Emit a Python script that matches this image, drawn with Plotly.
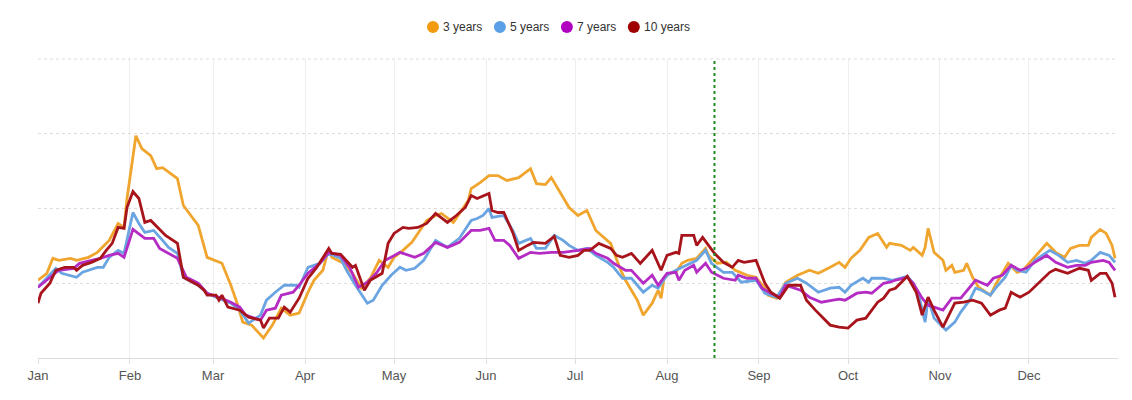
import numpy as np
import plotly.graph_objects as go

# day-of-year readings (0 = Jan 1) and index values for each horizon
days_3 = [0, 3, 5, 7, 11, 13, 17, 20, 24, 27, 29, 30, 33, 35, 38, 40, 42, 47, 49, 54, 57, 62, 65, 67, 69, 72, 76, 79, 82, 85, 88, 91,
          93, 96, 98, 99, 103, 106, 109, 112, 115, 118, 120, 123, 126, 130, 131, 134, 136, 140, 142, 145, 146, 149, 152, 155, 158, 162, 166, 168, 171, 173, 177, 179, 182,
          185, 188, 190, 193, 196, 198, 200, 202, 204, 207, 209, 210, 211, 213, 215, 217, 219, 222, 225, 226, 229, 232, 235, 239, 242, 245, 246, 249, 252, 256, 260, 263, 267, 270,
          272, 274, 277, 280, 283, 286, 287, 291, 294, 295, 298, 299, 300, 302, 305, 306, 308, 309, 312, 313, 315, 317, 321, 323, 327, 330, 332, 335, 340, 343, 346, 348, 351, 354, 355, 358, 360, 362, 363]
vals_3 = [78, 85, 100, 98, 100, 98, 101, 106, 118, 135, 131, 160, 223, 210, 203, 190, 191, 180, 153, 133, 101, 95, 73, 56, 36, 33, 20, 33, 50, 43, 45, 66,
          78, 88, 110, 101, 95, 85, 70, 80, 98, 91, 101, 108, 116, 133, 138, 143, 145, 136, 145, 158, 170, 176, 183, 183, 178, 181, 190, 175, 174, 181, 161, 151, 143,
          148, 128, 123, 115, 91, 78, 68, 58, 43, 55, 68, 60, 80, 85, 86, 95, 98, 100, 110, 103, 95, 96, 88, 83, 81, 70, 63, 60, 76, 83, 88, 85, 91, 96,
          91, 100, 108, 121, 125, 111, 115, 113, 108, 111, 103, 111, 130, 106, 98, 88, 93, 86, 88, 95, 81, 71, 63, 75, 95, 86, 88, 98, 115, 106, 101, 110, 113, 113, 121, 129, 125, 113, 100]

days_5 = [0, 3, 6, 8, 13, 15, 20, 22, 24, 27, 29, 32, 34, 36, 39, 42, 44, 47, 49, 54, 57, 60, 65, 68, 71, 75, 77, 80, 83, 87, 88, 91,
          95, 98, 102, 104, 107, 111, 113, 116, 119, 122, 124, 127, 130, 134, 138, 142, 146, 148, 150, 152, 153, 157, 160, 162, 166, 168, 171, 174, 177, 179, 182,
          185, 188, 192, 194, 197, 200, 204, 207, 209, 212, 215, 217, 220, 222, 225, 227, 231, 234, 237, 242, 245, 249, 252, 256, 259, 263, 267, 270, 272,
          274, 278, 280, 281, 285, 288, 293, 295, 297, 299, 300, 302, 306, 309, 311, 314, 316, 318, 321, 323, 326, 328, 330, 333, 336, 341, 344, 347, 350, 353, 355, 358, 361, 363]
vals_5 = [71, 80, 90, 85, 81, 86, 91, 91, 101, 108, 105, 146, 135, 126, 128, 118, 111, 105, 81, 73, 65, 61, 55, 48, 35, 43, 58, 66, 73, 73, 71, 91,
          95, 105, 100, 88, 73, 55, 58, 73, 83, 91, 88, 90, 98, 118, 111, 120, 138, 140, 143, 150, 141, 143, 128, 115, 120, 110, 110, 123, 118, 113, 108,
          110, 103, 96, 91, 80, 80, 66, 73, 70, 83, 88, 91, 95, 98, 108, 95, 86, 86, 76, 78, 65, 61, 75, 80, 75, 66, 70, 71, 66,
          73, 80, 76, 80, 80, 78, 82, 75, 61, 36, 60, 40, 28, 36, 46, 58, 70, 68, 63, 71, 81, 93, 88, 86, 98, 108, 103, 96, 98, 95, 98, 106, 103, 96]

days_7 = [0, 3, 7, 12, 14, 18, 21, 24, 27, 29, 32, 36, 39, 41, 44, 47, 50, 54, 57, 61, 65, 68, 70, 75, 77, 80, 82, 86, 88, 91,
          95, 98, 102, 105, 108, 111, 114, 117, 119, 122, 127, 130, 134, 138, 142, 146, 149, 152, 154, 157, 159, 162, 166, 169, 173, 177, 182,
          186, 188, 192, 194, 198, 200, 204, 207, 209, 212, 215, 216, 218, 221, 222, 225, 227, 231, 235, 236, 239, 242, 244, 247, 250, 252, 257, 260, 264, 268,
          270, 272, 276, 279, 281, 285, 287, 289, 293, 295, 298, 300, 303, 305, 308, 311, 316, 320, 322, 325, 328, 331, 333, 336, 340, 343, 347, 350, 353, 355, 359, 361, 363]
vals_7 = [71, 78, 88, 90, 95, 98, 100, 103, 105, 101, 129, 120, 120, 110, 105, 100, 81, 75, 65, 61, 56, 51, 43, 38, 48, 50, 63, 66, 73, 85,
          95, 106, 103, 91, 71, 76, 85, 98, 101, 106, 101, 105, 116, 111, 116, 128, 128, 130, 118, 118, 113, 100, 106, 105, 106, 106, 108,
          110, 105, 100, 95, 88, 88, 75, 83, 73, 85, 86, 78, 88, 93, 86, 95, 86, 80, 78, 83, 80, 80, 70, 65, 61, 73, 68, 61, 56, 58,
          59, 58, 65, 66, 65, 75, 76, 78, 81, 75, 60, 53, 50, 48, 60, 60, 78, 73, 80, 83, 93, 88, 90, 96, 103, 96, 91, 93, 93, 96, 98, 96, 88]

days_10 = [0, 1, 4, 6, 9, 12, 13, 15, 18, 21, 23, 25, 27, 29, 30, 32, 34, 36, 38, 43, 47, 49, 54, 56, 57, 60, 61, 62, 64, 68, 71, 75, 76, 78, 81, 83, 85, 88, 91,
           94, 98, 99, 102, 106, 107, 110, 112, 116, 118, 120, 123, 125, 128, 131, 134, 138, 141, 144, 146, 148, 152, 153, 155, 157, 160, 162, 165, 167, 171, 174, 176, 179, 182,
           184, 186, 189, 193, 195, 197, 200, 203, 207, 210, 212, 215, 216, 217, 221, 222, 224, 226, 228, 231, 234, 236, 238, 242, 245, 247, 250, 253, 257, 259, 262, 267, 270, 273,
           276, 279, 281, 283, 285, 287, 289, 293, 296, 298, 300, 302, 305, 309, 312, 315, 318, 321, 324, 326, 328, 331, 334, 337, 341, 343, 347, 351, 354, 355, 358, 360, 362, 363]
vals_10 = [55, 65, 75, 88, 91, 91, 88, 93, 96, 100, 108, 115, 131, 130, 151, 167, 160, 136, 138, 123, 115, 81, 73, 68, 63, 63, 58, 63, 51, 48, 41, 38, 30, 40, 40, 51, 46, 60, 80,
           91, 110, 105, 104, 91, 93, 68, 78, 85, 115, 125, 131, 130, 131, 135, 145, 136, 143, 151, 163, 160, 165, 148, 146, 146, 126, 108, 113, 116, 115, 122, 103, 101, 103,
           108, 108, 115, 110, 103, 101, 105, 95, 108, 88, 103, 106, 105, 123, 123, 113, 121, 113, 105, 96, 91, 98, 96, 98, 75, 66, 60, 73, 73, 58, 48, 33, 31, 30,
           38, 40, 48, 56, 60, 68, 70, 82, 66, 43, 61, 48, 31, 55, 56, 58, 55, 43, 48, 50, 66, 61, 66, 75, 86, 89, 85, 90, 88, 78, 85, 85, 75, 61]

names = ["3 years", "5 years", "7 years", "10 years"]
line_colors = ["#F0A52E", "#6AA5E2", "#B52CC4", "#A8141C"]
legend_colors = ["#F39C12", "#5B9FE6", "#B000C0", "#9E0000"]
marker_date = "2023-08-17"

start = np.datetime64("2023-01-01")
series = [(days_3, vals_3), (days_5, vals_5), (days_7, vals_7), (days_10, vals_10)]

fig = go.Figure()
for (d, v), name, col in zip(series, names, line_colors):
    fig.add_trace(go.Scatter(
        x=start + np.array(d, dtype="timedelta64[D]"), y=v,
        mode="lines", name=name, showlegend=False,
        line=dict(color=col, width=2.8), hoverinfo="x+y+name"))

# top gridline sits on the plot edge, so draw it as a shape
fig.add_shape(type="line", xref="paper", yref="paper", x0=0, x1=1, y0=1, y1=1,
              line=dict(color="#DDDDDD", width=1, dash="dot"), layer="below")

# green dotted marker, from the top gridline down to the axis
fig.add_shape(type="line", x0=marker_date, x1=marker_date, y0=0, y1=1,
              xref="x", yref="paper", line=dict(color="#1E8A1E", width=2, dash="dot"))

# legend drawn by hand: round dot followed closely by the label
leg_x0, leg_step, leg_y = 0.3657, 0.0620, 1.107
for i, (name, col) in enumerate(zip(names, legend_colors)):
    cx = leg_x0 + i * leg_step
    fig.add_shape(type="circle", xref="paper", yref="paper",
                  xsizemode="pixel", ysizemode="pixel", xanchor=cx, yanchor=leg_y,
                  x0=-6, x1=6, y0=-6, y1=6, fillcolor=col, line_width=0)
    fig.add_annotation(x=cx + 0.0075, y=leg_y, xref="paper", yref="paper",
                       text=name, showarrow=False, xanchor="left", yanchor="middle",
                       font=dict(size=12, color="#333"))

fig.update_layout(
    width=1132, height=400,
    margin=dict(l=30, r=22, t=51, b=50),
    plot_bgcolor="white", paper_bgcolor="white",
    font=dict(family="Liberation Sans, Arial", size=12, color="#333"),
    showlegend=False,
)
fig.update_xaxes(
    type="date", range=["2023-01-01", "2023-12-31"],
    dtick="M1", tick0="2023-01-01", tickformat="%b",
    showgrid=True, gridcolor="#EEEEEE", gridwidth=1,
    showline=True, linecolor="#DDDDDD", linewidth=1,
    ticks="outside", ticklen=5, tickcolor="#DDDDDD",
    tickfont=dict(size=13, color="#555"), zeroline=False,
)
fig.update_yaxes(
    range=[0, 300], dtick=75, showticklabels=False,
    showgrid=True, gridcolor="#DDDDDD", griddash="dot", zeroline=False,
)

fig.write_html("out.html")
